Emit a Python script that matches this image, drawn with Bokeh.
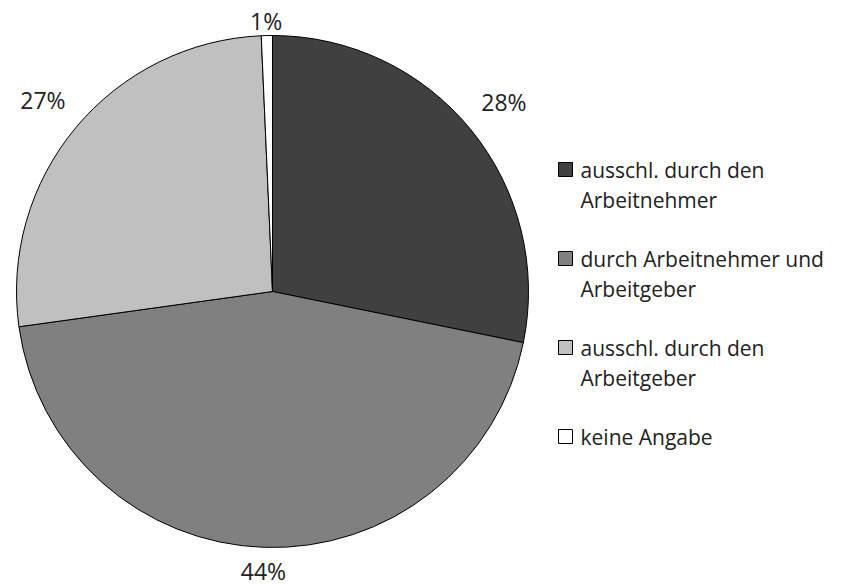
import math
from bokeh.plotting import figure
from bokeh.models import ColumnDataSource, Range1d
from bokeh.core.properties import value
from bokeh.embed import file_html
from bokeh.resources import INLINE

# ---- data ----
categories = ["ausschl. durch den\nArbeitnehmer",
              "durch Arbeitnehmer und\nArbeitgeber",
              "ausschl. durch den\nArbeitgeber",
              "keine Angabe"]
shares = [28.2, 44.6, 26.5, 0.7]
share_labels = ["28%", "44%", "27%", "1%"]
colors = ["#404040", "#808080", "#C0C0C0", "#FFFFFF"]

# ---- layout ----
W, H = 850, 588
FONT = "Open Sans"
FS = 21
LFS = 23
cx, cy, R = 272, H - 291, 256

p = figure(width=W, height=H, output_backend="svg", toolbar_location=None,
           x_range=Range1d(0, W), y_range=Range1d(0, H),
           min_border=0, outline_line_color=None)
p.axis.visible = False
p.grid.visible = False
p.background_fill_color = "white"
p.border_fill_color = "white"

total = sum(shares)
starts, ends, mids = [], [], []
cum = 0.0
for v in shares:
    a0 = math.pi / 2 - (cum + v) / total * 2 * math.pi
    a1 = math.pi / 2 - cum / total * 2 * math.pi
    starts.append(a0)
    ends.append(a1)
    mids.append((a0 + a1) / 2)
    cum += v

src = ColumnDataSource(dict(x=[cx] * 4, y=[cy] * 4, start=starts, end=ends, color=colors))
p.wedge(x="x", y="y", radius=R, start_angle="start", end_angle="end",
        direction="anticlock", fill_color="color", line_color="#000000",
        line_width=1, source=src)

# percentage labels outside the pie (kept inside the chart area)
lx, ly = [], []
for lab, a in zip(share_labels, mids):
    w = len(lab) * 13
    h = 18
    r = R + 22 + 0.5 * (w * abs(math.cos(a)) + h * abs(math.sin(a)))
    x = cx + r * math.cos(a)
    y = cy + r * math.sin(a)
    y = max(min(y, H - 20), 18)
    lx.append(x)
    ly.append(y)
p.text(x=lx, y=ly, text=share_labels, text_font=value(FONT), text_font_size=f"{LFS}px",
       text_color="#222222", text_align="center", text_baseline="middle")

# legend (manual)
leg_x, leg_y0, item_gap, line_gap = 565, H - 169, 89, 30
sq_x, sq_y, tx, ty, tt = [], [], [], [], []
for i, (cat, c) in enumerate(zip(categories, colors)):
    yy = leg_y0 - i * item_gap
    sq_x.append(leg_x)
    sq_y.append(yy)
    for j, line in enumerate(cat.split("\n")):
        tx.append(leg_x + 15)
        ty.append(yy - j * line_gap)
        tt.append(line)
p.rect(x=sq_x, y=sq_y, width=14, height=14, width_units="screen", height_units="screen",
       fill_color=colors, line_color="#000000", line_width=1)
p.text(x=tx, y=ty, text=tt, text_font=value(FONT), text_font_size=f"{FS}px",
       text_color="#222222", text_align="left", text_baseline="middle")

open("out.html", "w").write(file_html(p, INLINE))
